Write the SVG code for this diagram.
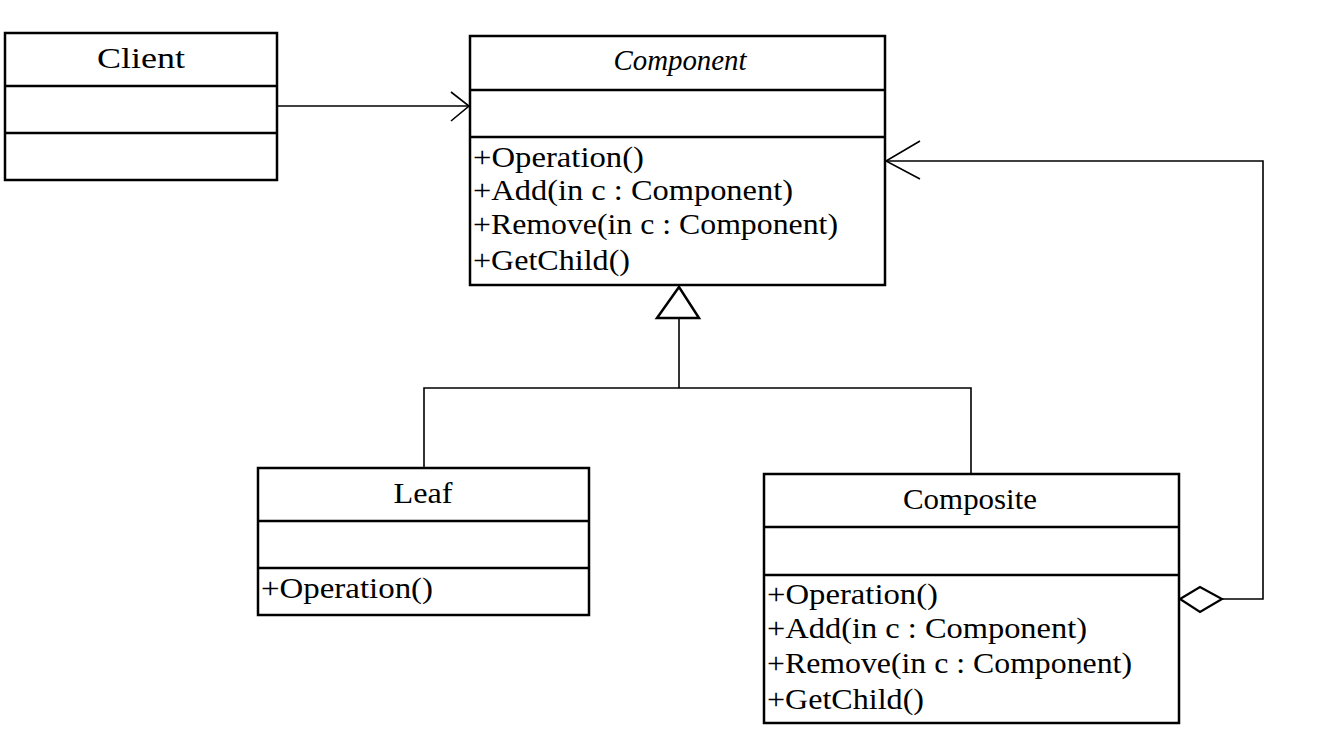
<svg xmlns="http://www.w3.org/2000/svg" width="1317" height="732" viewBox="0 0 1317 732">
<style>
.box{fill:#fff;stroke:#000;stroke-width:2.5}
.div{stroke:#000;stroke-width:2.5}
.t{font-family:"Liberation Serif","Noto Sans CJK SC",serif;font-size:30px;fill:#000}
.n{text-anchor:middle}
.c{fill:none;stroke:#000;stroke-width:1.6}
</style>
<rect width="1317" height="732" fill="#fff"/>
<g id="connectors">
<line class="c" x1="277" y1="106" x2="469" y2="106"/>
<polyline class="c" points="451,92 469,106 451,121" stroke-width="2"/>
<polyline class="c" points="679,318 679,388"/>
<polyline class="c" points="424,468 424,388 971,388 971,474"/>
<polygon points="679,287 657,318 699,318" fill="#fff" stroke="#000" stroke-width="2.5"/>
<polyline class="c" points="1222,599 1263,599 1263,161 886,161"/>
<polyline class="c" points="920,141 886,161 920,179" stroke-width="2.2"/>
<polygon points="1180,599 1200,587 1222,599 1200,612" fill="#fff" stroke="#000" stroke-width="2.2"/>
</g>
<g id="client">
<rect class="box" x="5" y="33" width="272" height="147"/>
<line class="div" x1="5" y1="86" x2="277" y2="86"/>
<line class="div" x1="5" y1="133" x2="277" y2="133"/>
<text class="t n" x="141" y="68" textLength="88" lengthAdjust="spacingAndGlyphs">Client</text>
</g>
<g id="component">
<rect class="box" x="470" y="36" width="415" height="249"/>
<line class="div" x1="470" y1="90" x2="885" y2="90"/>
<line class="div" x1="470" y1="137" x2="885" y2="137"/>
<text class="t n" x="680" y="70" font-style="italic" textLength="133" lengthAdjust="spacingAndGlyphs">Component</text>
<text class="t" x="473" y="167" textLength="171" lengthAdjust="spacingAndGlyphs">+Operation()</text>
<text class="t" x="473" y="200" textLength="320" lengthAdjust="spacingAndGlyphs">+Add(in c : Component)</text>
<text class="t" x="473" y="234" textLength="365" lengthAdjust="spacingAndGlyphs">+Remove(in c : Component)</text>
<text class="t" x="473" y="270" textLength="157" lengthAdjust="spacingAndGlyphs">+GetChild()</text>
</g>
<g id="leaf">
<rect class="box" x="258" y="468" width="331" height="147"/>
<line class="div" x1="258" y1="521" x2="589" y2="521"/>
<line class="div" x1="258" y1="568" x2="589" y2="568"/>
<text class="t n" x="423" y="503" textLength="59" lengthAdjust="spacingAndGlyphs">Leaf</text>
<text class="t" x="261" y="598" textLength="172" lengthAdjust="spacingAndGlyphs">+Operation()</text>
</g>
<g id="composite">
<rect class="box" x="764" y="474" width="415" height="249"/>
<line class="div" x1="764" y1="527" x2="1179" y2="527"/>
<line class="div" x1="764" y1="575" x2="1179" y2="575"/>
<text class="t n" x="970" y="509" textLength="134" lengthAdjust="spacingAndGlyphs">Composite</text>
<text class="t" x="767" y="604" textLength="171" lengthAdjust="spacingAndGlyphs">+Operation()</text>
<text class="t" x="767" y="638" textLength="320" lengthAdjust="spacingAndGlyphs">+Add(in c : Component)</text>
<text class="t" x="767" y="673" textLength="365" lengthAdjust="spacingAndGlyphs">+Remove(in c : Component)</text>
<text class="t" x="767" y="709" textLength="157" lengthAdjust="spacingAndGlyphs">+GetChild()</text>
</g>
</svg>
